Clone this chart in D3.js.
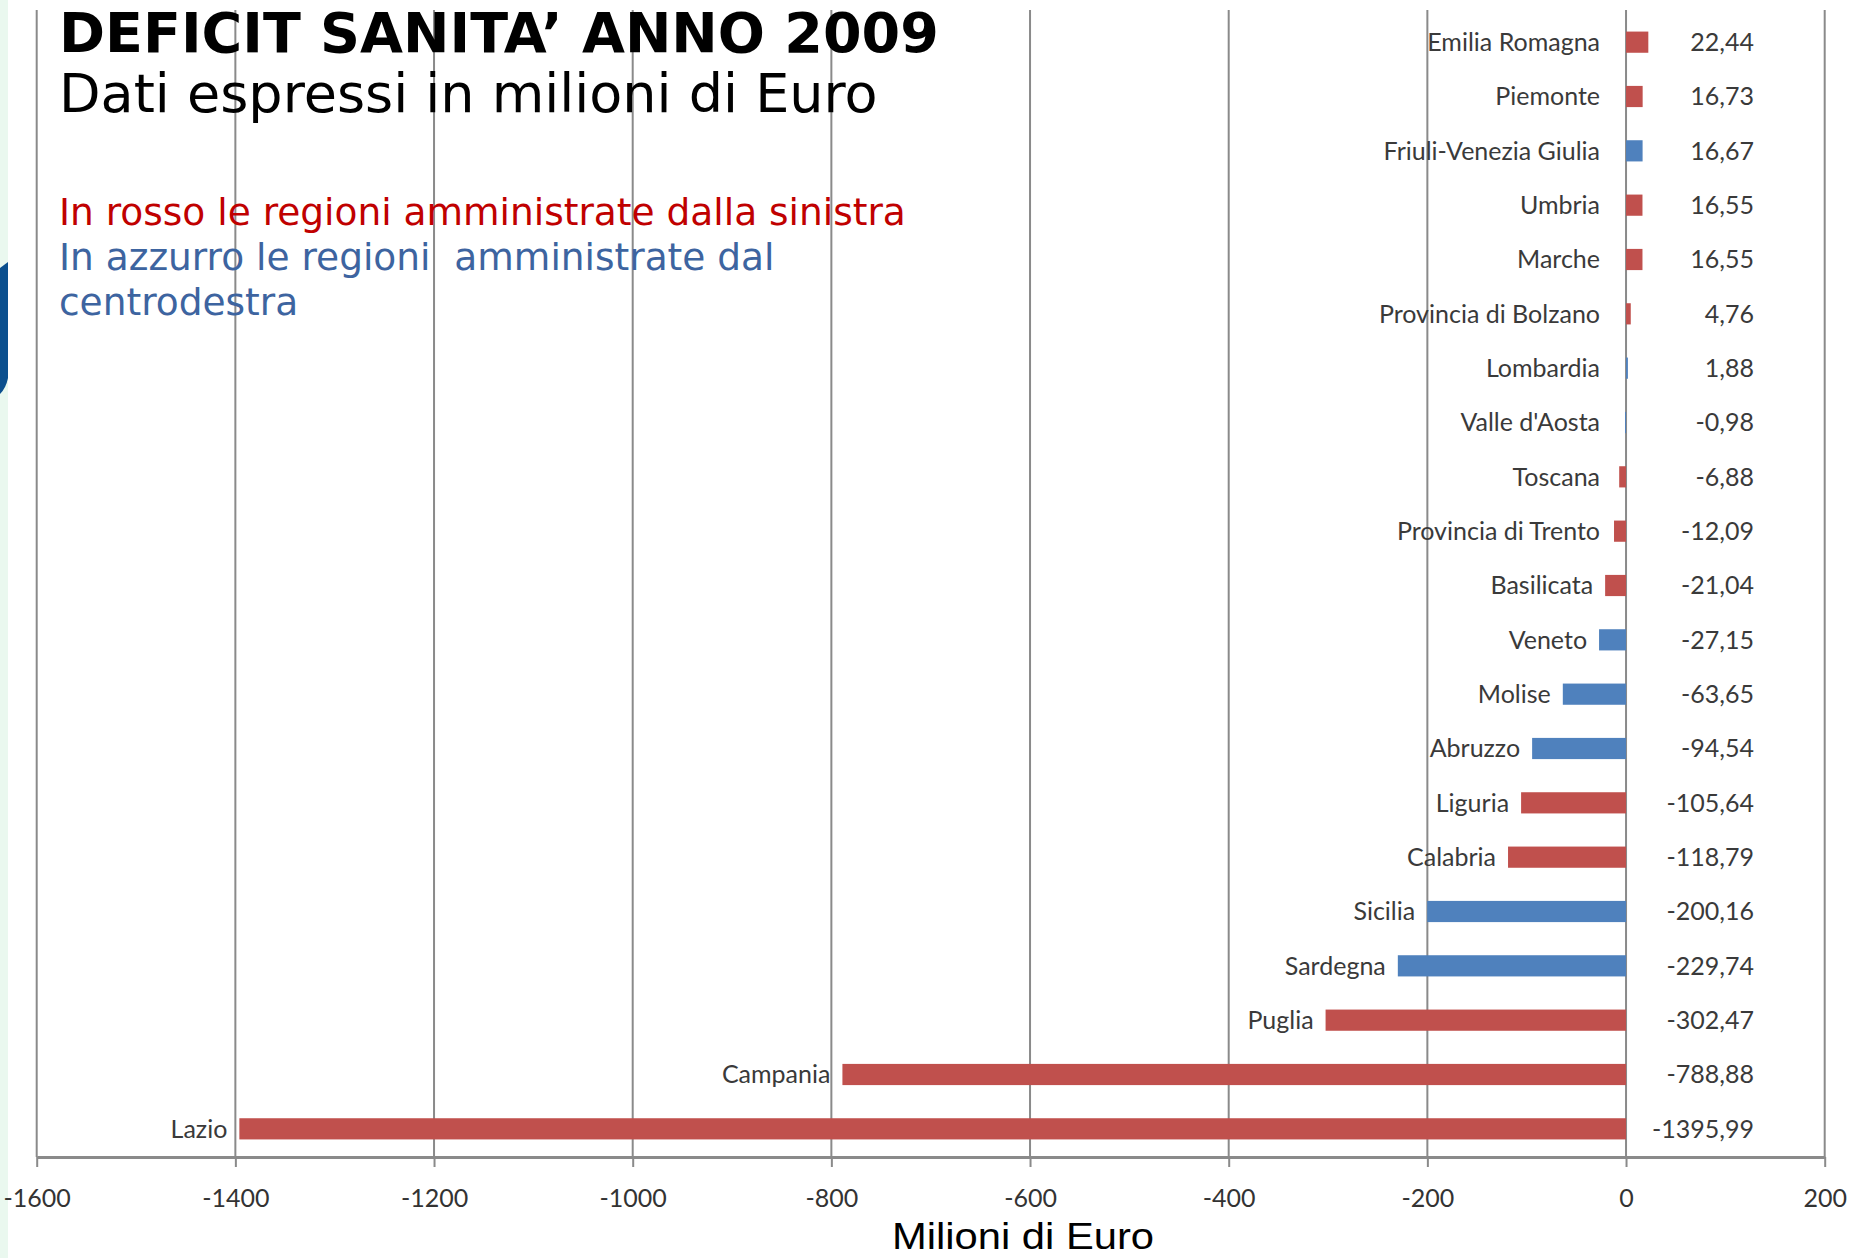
<!DOCTYPE html>
<html>
<head>
<meta charset="utf-8">
<script src="https://cdn.jsdelivr.net/npm/d3@7"></script>
<style>
  body { margin: 0; background: #fff; }
  svg { display: block; }
</style>
</head>
<body>
<div id="chart"></div>
<script>
// Data (milioni di Euro, 2009)
const regions = ["Emilia Romagna", "Piemonte", "Friuli-Venezia Giulia", "Umbria", "Marche",
  "Provincia di Bolzano", "Lombardia", "Valle d'Aosta", "Toscana", "Provincia di Trento",
  "Basilicata", "Veneto", "Molise", "Abruzzo", "Liguria", "Calabria", "Sicilia",
  "Sardegna", "Puglia", "Campania", "Lazio"];
const deficits = [22.44, 16.73, 16.67, 16.55, 16.55, 4.76, 1.88, -0.98, -6.88, -12.09,
  -21.04, -27.15, -63.65, -94.54, -105.64, -118.79, -200.16, -229.74, -302.47, -788.88, -1395.99];
// "sx" = sinistra (rosso), "cdx" = centrodestra (azzurro)
const coalition = ["sx", "sx", "cdx", "sx", "sx", "sx", "cdx", "cdx", "sx", "sx",
  "sx", "cdx", "cdx", "cdx", "sx", "sx", "cdx", "cdx", "sx", "sx", "sx"];
const xTicks = [-1600, -1400, -1200, -1000, -800, -600, -400, -200, 0, 200];

const W = 1849, H = 1258;
const colors = {sx: "#c0504d", cdx: "#4f81bd"};

const it = d3.formatLocale({decimal: ",", thousands: ".", grouping: [3], currency: ["", "€"], minus: "-"});
const fmtVal = it.format(".2f");
const fmtTick = it.format("d");

const data = regions.map(function(r, i) {
  return {region: r, value: deficits[i], side: coalition[i]};
});

const svg = d3.select("#chart").append("svg")
  .attr("width", W).attr("height", H);

// left decorative strip of the slide
svg.append("rect").attr("x", 0).attr("y", 0).attr("width", 8).attr("height", H).attr("fill", "#eaf8ef");
svg.append("path")
  .attr("d", "M0,268 L8,262 L8,378 Q6,388 0,394 Z")
  .attr("fill", "#0b4f8e");

// Scales
const x = d3.scaleLinear().domain([-1600, 200]).range([36.7, 1824.7]);
const y = d3.scaleBand().domain(regions).range([15, 1156])
  .paddingInner(0.61).paddingOuter(0.305);

const plotTop = 10, axisY = 1157;
const labelFont = "Lato, 'Open Sans', sans-serif";

// gridlines
svg.append("g")
  .selectAll("line")
  .data(xTicks)
  .enter().append("line")
  .attr("x1", function(d) { return x(d); })
  .attr("x2", function(d) { return x(d); })
  .attr("y1", plotTop).attr("y2", axisY)
  .attr("stroke", "#8a8a8a").attr("stroke-width", 2);

// bars
svg.append("g")
  .selectAll("rect")
  .data(data)
  .enter().append("rect")
  .attr("x", function(d) { return x(Math.min(0, d.value)); })
  .attr("y", function(d) { return y(d.region); })
  .attr("width", function(d) { return Math.abs(x(d.value) - x(0)); })
  .attr("height", y.bandwidth())
  .attr("fill", function(d) { return colors[d.side]; });

// bottom axis
const xAxis = svg.append("g")
  .attr("transform", "translate(0," + axisY + ")")
  .call(d3.axisBottom(x).tickValues(xTicks).tickFormat(fmtTick).tickSizeInner(10).tickSizeOuter(0).tickPadding(22));
xAxis.select(".domain").attr("stroke", "#8a8a8a").attr("stroke-width", 3);
xAxis.selectAll(".tick line").attr("stroke", "#8a8a8a").attr("stroke-width", 2);
xAxis.selectAll(".tick text")
  .attr("font-family", labelFont)
  .attr("font-size", 25)
  .attr("fill", "#333");

// category labels
svg.append("g")
  .selectAll("text")
  .data(data)
  .enter().append("text")
  .attr("x", function(d) { return Math.min(x(0) - 26, x(d.value) - 12); })
  .attr("y", function(d) { return y(d.region) + y.bandwidth() / 2; })
  .attr("dy", "0.35em")
  .attr("text-anchor", "end")
  .attr("font-family", labelFont)
  .attr("font-size", 25)
  .attr("fill", "#3a3a3a")
  .text(function(d) { return d.region; });

// value labels
svg.append("g")
  .selectAll("text")
  .data(data)
  .enter().append("text")
  .attr("x", x(0) + 128)
  .attr("y", function(d) { return y(d.region) + y.bandwidth() / 2; })
  .attr("dy", "0.35em")
  .attr("text-anchor", "end")
  .attr("font-family", labelFont)
  .attr("font-size", 25)
  .attr("fill", "#3a3a3a")
  .text(function(d) { return fmtVal(d.value); });

// axis title
svg.append("text")
  .attr("x", 1023).attr("y", 1249)
  .attr("text-anchor", "middle")
  .attr("font-family", "'Liberation Sans', Arial, sans-serif")
  .attr("font-size", 37)
  .attr("textLength", 262)
  .attr("lengthAdjust", "spacingAndGlyphs")
  .attr("fill", "#000")
  .text("Milioni di Euro");

// titles
svg.append("text")
  .attr("x", 59).attr("y", 52)
  .attr("font-family", "'DejaVu Sans', Verdana, sans-serif")
  .attr("font-weight", "bold")
  .attr("font-size", 55.5)
  .attr("fill", "#000")
  .text("DEFICIT SANITA’ ANNO 2009");

svg.append("text")
  .attr("x", 59).attr("y", 112)
  .attr("font-family", "'DejaVu Sans', Verdana, sans-serif")
  .attr("font-size", 54)
  .attr("fill", "#000")
  .text("Dati espressi in milioni di Euro");

svg.append("text")
  .attr("x", 59).attr("y", 225)
  .attr("font-family", "'DejaVu Sans', Verdana, sans-serif")
  .attr("font-size", 37.5)
  .attr("fill", "#c00000")
  .text("In rosso le regioni amministrate dalla sinistra");

const blueNote = ["In azzurro le regioni  amministrate dal", "centrodestra"];
svg.append("g")
  .selectAll("text")
  .data(blueNote)
  .enter().append("text")
  .attr("x", 59)
  .attr("y", function(d, i) { return 270 + i * 45; })
  .attr("font-family", "'DejaVu Sans', Verdana, sans-serif")
  .attr("font-size", 37.5)
  .attr("fill", "#3d64a0")
  .attr("xml:space", "preserve")
  .style("white-space", "pre")
  .text(function(d) { return d; });
</script>
</body>
</html>
